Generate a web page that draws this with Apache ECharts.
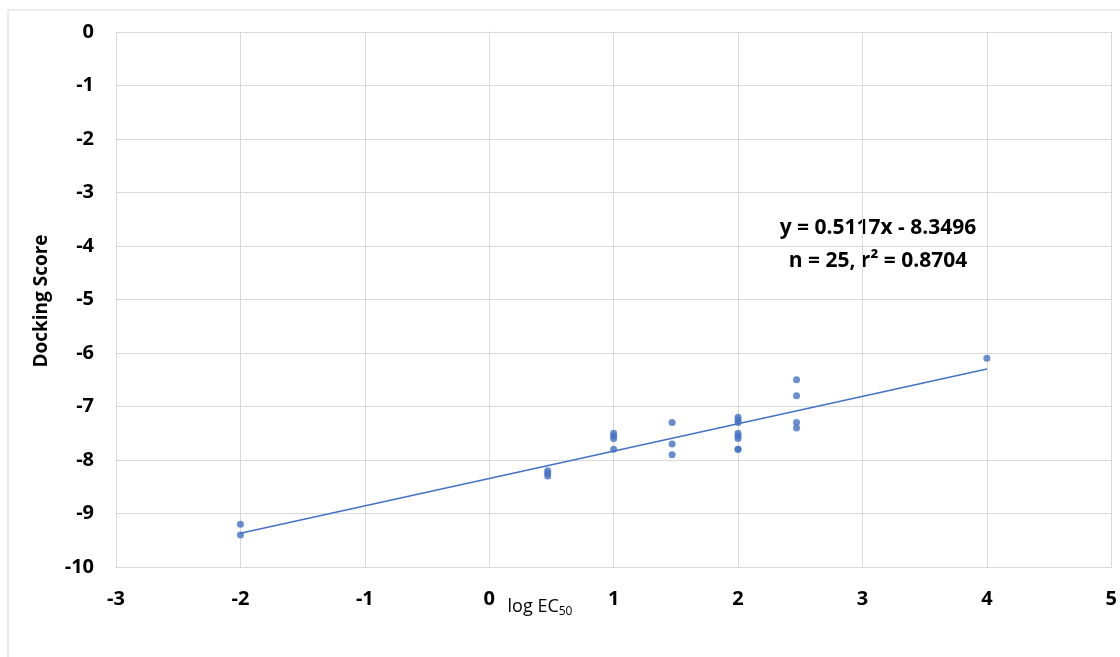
<!DOCTYPE html>
<html>
<head>
<meta charset="utf-8">
<script src="https://cdn.jsdelivr.net/npm/echarts@6/dist/echarts.min.js"></script>
<style>html,body{margin:0;padding:0;background:#fff;}#c{width:1120px;height:657px;}</style>
</head>
<body>
<div id="c"></div>
<script>
// data: [log EC50, docking score]
const logEC50 = [-2, -2, 0.47, 0.47, 0.47, 1, 1, 1, 1, 1.47, 1.47, 1.47, 2, 2, 2, 2, 2, 2, 2, 2, 2.47, 2.47, 2.47, 2.47, 4];
const dockScore = [-9.2, -9.4, -8.2, -8.25, -8.3, -7.5, -7.55, -7.6, -7.8, -7.3, -7.7, -7.9, -7.2, -7.25, -7.3, -7.5, -7.55, -7.6, -7.8, -7.8, -6.5, -6.8, -7.3, -7.4, -6.1];
const trendX = [-2, 4];
const trendY = [-9.37, -6.30];
const xTicks = [-3, -2, -1, 0, 1, 2, 3, 4, 5];
const yTicks = [0, -1, -2, -3, -4, -5, -6, -7, -8, -9, -10];
const eqLine1 = 'y = 0.5117x - 8.3496';
const eqLine2 = 'n = 25, r\u00B2 = 0.8704';

const FONT = '"Open Sans", "Noto Sans", sans-serif';
const chart = echarts.init(document.getElementById('c'));
chart.setOption({
  animation: false,
  backgroundColor: '#fff',
  grid: { left: 116, right: 8, top: 32, bottom: 90 },
  xAxis: {
    type: 'value', min: xTicks[0], max: xTicks[xTicks.length - 1], interval: 1,
    axisLine: { show: true, onZero: false, lineStyle: { color: '#d9d9d9' } },
    axisTick: { show: false },
    splitLine: { show: true, lineStyle: { color: '#d9d9d9', width: 1 } },
    axisLabel: { color: '#000', fontFamily: FONT, fontWeight: 'bold', fontSize: 20, margin: 22 }
  },
  yAxis: {
    type: 'value', min: yTicks[yTicks.length - 1], max: yTicks[0], interval: 1,
    axisLine: { show: true, lineStyle: { color: '#d9d9d9' } },
    axisTick: { show: false },
    splitLine: { show: true, lineStyle: { color: '#d9d9d9', width: 1 } },
    axisLabel: { color: '#000', fontFamily: FONT, fontWeight: 'bold', fontSize: 20, margin: 22 }
  },
  graphic: [
    { type: 'rect', shape: { x: 8, y: 10, width: 1130, height: 660 }, style: { fill: 'none', stroke: '#d9d9d9', lineWidth: 1 }, z: -10, silent: true },
    { type: 'text', x: 42, y: 301, rotation: Math.PI / 2, style: { text: 'Docking Score', fill: '#000', fontFamily: FONT, fontWeight: 'bold', fontSize: 19, align: 'center', verticalAlign: 'middle' } },
    { type: 'text', x: 878, y: 228, style: { text: eqLine1, fill: '#000', fontFamily: FONT, fontWeight: 'bold', fontSize: 21, align: 'center', verticalAlign: 'middle' } },
    { type: 'text', x: 878, y: 261, style: { text: eqLine2, fill: '#000', fontFamily: FONT, fontWeight: 'bold', fontSize: 21, align: 'center', verticalAlign: 'middle' } },
    { type: 'text', x: 540, y: 607, style: {
        text: '{a|log EC}{s|50}', align: 'center', verticalAlign: 'middle',
        rich: { a: { fontFamily: FONT, fontSize: 18, fill: '#000' }, s: { fontFamily: FONT, fontSize: 12, fill: '#000', padding: [10, 0, 0, 0] } }
      } }
  ],
  series: [
    {
      type: 'line', data: trendX.map((x, i) => [x, trendY[i]]), symbol: 'none',
      lineStyle: { color: '#4472C4', width: 1.5 }, z: 2, silent: true
    },
    {
      type: 'scatter', data: logEC50.map((x, i) => [x, dockScore[i]]), symbolSize: 7,
      itemStyle: { color: '#4472C4' }, z: 3
    }
  ]
});
</script>
</body>
</html>
